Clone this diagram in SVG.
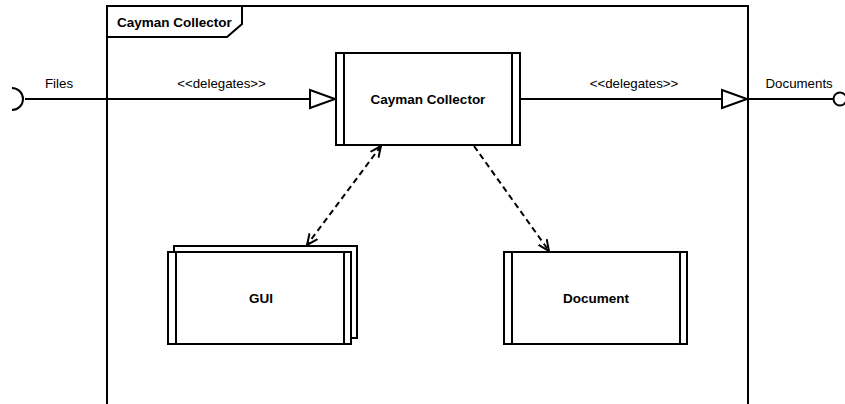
<svg xmlns="http://www.w3.org/2000/svg" width="845" height="404" viewBox="0 0 845 404">
<style>
.ln{fill:none;stroke:#000;stroke-width:2}
.box{fill:#fff;stroke:#000;stroke-width:2}
.dash{fill:none;stroke:#000;stroke-width:2;stroke-dasharray:6,4}
.lbl{font-family:"Liberation Sans",Arial,sans-serif;font-size:13.3px;fill:#000}
.b{font-family:"Liberation Sans",Arial,sans-serif;font-size:13.5px;font-weight:bold;fill:#000}
</style>
<defs>
<marker id="open" viewBox="0 0 12 12" refX="11" refY="6" markerWidth="12" markerHeight="12" markerUnits="userSpaceOnUse" orient="auto-start-reverse">
<path d="M0,1 L11,6 L0,11" fill="none" stroke="#000" stroke-width="2"/>
</marker>
</defs>
<rect width="845" height="404" fill="#fff"/>
<g id="frame">
<path class="ln" d="M107,410 L107,6 L748,6 L748,410"/>
<path class="ln" d="M107,37 L227,37 L242,24 L242,6"/>
<text class="b" x="117" y="26.5">Cayman Collector</text>
</g>
<g id="connectors">
<path class="ln" d="M25,99 L310,99"/>
<path class="box" d="M310,90 L335,99 L310,108 Z"/>
<text class="lbl" x="45" y="88">Files</text>
<text class="lbl" x="221.5" y="88" text-anchor="middle">&lt;&lt;delegates&gt;&gt;</text>
<path class="ln" d="M520,99 L722,99"/>
<path class="box" d="M722,90 L747,99 L722,108 Z"/>
<text class="lbl" x="634" y="88" text-anchor="middle">&lt;&lt;delegates&gt;&gt;</text>
<path class="ln" d="M748,99 L833,99"/>
<text class="lbl" x="765.5" y="88">Documents</text>
<path class="dash" d="M381,146 L307,245" marker-start="url(#open)" marker-end="url(#open)"/>
<path class="dash" d="M474,146 L549,251" marker-end="url(#open)"/>
</g>
<g id="port-files">
<path class="ln" d="M12,88 A11,11 0 0 1 12,110"/>
</g>
<g id="port-documents">
<circle class="box" cx="840" cy="99" r="6.5"/>
</g>
<g id="cayman-collector">
<rect class="box" x="336" y="53" width="184" height="92"/>
<path class="ln" d="M344,53 V145 M512,53 V145"/>
<text class="b" x="428" y="103.5" text-anchor="middle">Cayman Collector</text>
</g>
<g id="gui">
<rect class="box" x="174" y="246" width="183" height="92"/>
<rect class="box" x="168" y="252" width="183" height="92"/>
<path class="ln" d="M176,252 V344 M344,252 V344"/>
<text class="b" x="261" y="302.5" text-anchor="middle">GUI</text>
</g>
<g id="document">
<rect class="box" x="504" y="252" width="183" height="92"/>
<path class="ln" d="M512,252 V344 M680,252 V344"/>
<text class="b" x="596" y="302.5" text-anchor="middle">Document</text>
</g>
</svg>
